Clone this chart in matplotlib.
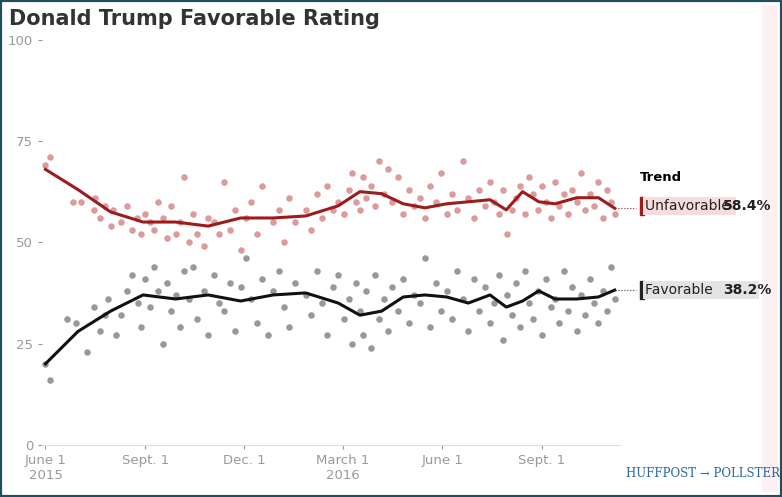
import numpy as np
import matplotlib.pyplot as plt
from matplotlib.patches import Rectangle

# days since June 1 2015
tr_days = [0, 30, 60, 90, 120, 150, 180, 210, 240, 270, 290, 310, 330, 350, 370, 390, 410, 425, 440, 455, 470, 490, 510, 525]
unfav_tr = [68, 63, 57.5, 55, 55, 54, 56, 56, 56.5, 59, 62.5, 62, 59.5, 58.5, 59.5, 60, 60.5, 58, 62.5, 60, 59.5, 61, 61, 58.4]
fav_tr = [20, 28, 33, 37, 36, 37, 35.5, 37, 37.5, 35, 32, 33, 36.5, 37, 36.5, 35, 37, 34, 35.5, 38, 36, 36, 36.5, 38.2]

unfav_d = [0, 4, 25, 33, 45, 46, 50, 55, 60, 62, 70, 75, 80, 84, 88, 92, 96, 100, 104, 108, 112, 116, 120, 124, 128, 132,
           136, 140, 146, 150, 155, 160, 165, 170, 175, 180, 185, 190, 195, 200, 210, 215, 220, 225, 230, 240, 245, 250,
           255, 260, 265, 270, 275, 280, 283, 286, 290, 293, 296, 300, 304, 308, 312, 316, 320, 325, 330, 335, 340, 345,
           350, 355, 360, 365, 370, 375, 380, 385, 390, 395, 400, 405, 410, 414, 418, 422, 426, 430, 434, 438, 442, 446,
           450, 454, 458, 462, 466, 470, 474, 478, 482, 486, 490, 494, 498, 502, 506, 510, 514, 518, 522, 525]
unfav_v = [69, 71, 60, 60, 58, 61, 56, 59, 54, 58, 55, 59, 53, 56, 52, 57, 55, 53, 60, 56, 51, 59, 52, 55, 66, 50,
           57, 52, 49, 56, 55, 52, 65, 53, 58, 48, 56, 60, 52, 64, 55, 58, 50, 61, 55, 58, 53, 62, 56, 64, 58, 60,
           57, 63, 67, 60, 58, 66, 61, 64, 59, 70, 62, 68, 60, 66, 57, 63, 59, 61, 56, 64, 60, 67, 57, 62, 58, 70,
           61, 56, 63, 59, 65, 60, 57, 63, 52, 58, 61, 64, 57, 66, 62, 58, 64, 60, 56, 65, 59, 62, 57, 63, 60, 67,
           58, 62, 59, 65, 56, 63, 60, 57]
fav_d = [0, 4, 20, 28, 38, 45, 50, 55, 58, 65, 70, 75, 80, 85, 88, 92, 96, 100, 104, 108, 112, 116, 120, 124, 128, 132,
         136, 140, 146, 150, 155, 160, 165, 170, 175, 180, 185, 190, 195, 200, 205, 210, 215, 220, 225, 230, 240, 245,
         250, 255, 260, 265, 270, 275, 280, 283, 286, 290, 293, 296, 300, 304, 308, 312, 316, 320, 325, 330, 335, 340,
         345, 350, 355, 360, 365, 370, 375, 380, 385, 390, 395, 400, 405, 410, 414, 418, 422, 426, 430, 434, 438, 442,
         446, 450, 454, 458, 462, 466, 470, 474, 478, 482, 486, 490, 494, 498, 502, 506, 510, 514, 518, 522, 525]
fav_v = [20, 16, 31, 30, 23, 34, 28, 32, 36, 27, 32, 38, 42, 35, 29, 41, 34, 44, 38, 25, 40, 33, 37, 29, 43, 36,
         44, 31, 38, 27, 42, 35, 33, 40, 28, 39, 46, 36, 30, 41, 27, 38, 43, 34, 29, 40, 37, 32, 43, 35, 27, 39,
         42, 31, 36, 25, 40, 33, 27, 38, 24, 42, 31, 36, 28, 39, 33, 41, 30, 37, 35, 46, 29, 40, 33, 38, 31, 43,
         36, 28, 41, 33, 39, 30, 35, 42, 26, 37, 32, 40, 29, 43, 35, 31, 38, 27, 41, 34, 36, 30, 43, 33, 39, 28,
         37, 32, 41, 35, 30, 38, 33, 44, 36]

xtick_days = [0, 92, 183, 274, 366, 458]
xtick_labels = ["June 1\n2015", "Sept. 1", "Dec. 1", "March 1\n2016", "June 1", "Sept. 1"]

red = "#9e1b1b"
fig = plt.figure(figsize=(7.82, 4.97), dpi=100)
fig.patch.set_facecolor("white")
fig.add_artist(Rectangle((0.0, 0.0), 1, 1, transform=fig.transFigure, fill=False, edgecolor="#1f4e5f", lw=3))
fig.add_artist(Rectangle((0.975, 0.01), 0.02, 0.98, transform=fig.transFigure, facecolor="#fdf0f0", lw=0))
ax = fig.add_axes([0.054, 0.105, 0.739, 0.815])

ax.scatter(unfav_d, unfav_v, s=22, color="#c0474a", alpha=0.55, lw=0)
ax.scatter(fav_d, fav_v, s=22, color="#333333", alpha=0.5, lw=0)
ax.plot(tr_days, unfav_tr, color=red, lw=2.2)
ax.plot(tr_days, fav_tr, color="#111111", lw=2.2)

ax.set_xlim(-3, 530)
ax.set_ylim(0, 100)
ax.set_yticks([0, 25, 50, 75, 100])
ax.set_xticks(xtick_days)
ax.set_xticklabels(xtick_labels)
ax.tick_params(colors="#999999", labelsize=9.5, length=3)
for s in ["top", "right", "left"]:
    ax.spines[s].set_visible(False)
ax.spines["bottom"].set_color("#dddddd")

# trend labels
ax.plot([525, 545], [unfav_tr[-1]] * 2, ls=":", color=red, lw=0.8, clip_on=False)
ax.plot([525, 545], [fav_tr[-1]] * 2, ls=":", color="#333", lw=0.8, clip_on=False)
fig.text(0.818, 0.635, "Trend", fontsize=9.5, fontweight="bold")
fig.text(0.825, 0.585, "Unfavorable ", fontsize=10, color="#222", va="center",
         bbox=dict(facecolor="#f7dcdc", edgecolor="none", pad=1.5))
fig.text(0.925, 0.585, "58.4%", fontsize=10, fontweight="bold", color="#222", va="center")
fig.add_artist(Rectangle((0.818, 0.567), 0.005, 0.037, transform=fig.transFigure, color=red))
fig.text(0.825, 0.416, "Favorable          ", fontsize=10, color="#222", va="center",
         bbox=dict(facecolor="#e4e4e4", edgecolor="none", pad=1.5))
fig.text(0.925, 0.416, "38.2%", fontsize=10, fontweight="bold", color="#222", va="center")
fig.add_artist(Rectangle((0.818, 0.398), 0.005, 0.037, transform=fig.transFigure, color="#222"))

fig.text(0.012, 0.95, "Donald Trump Favorable Rating", fontsize=15, fontweight="bold", color="#333")
fig.text(0.8, 0.04, "HUFFPOST \u2192 POLLSTER", fontsize=8.5, color="#2a6a9e", family="serif")
fig.savefig("out.png", dpi=100)
